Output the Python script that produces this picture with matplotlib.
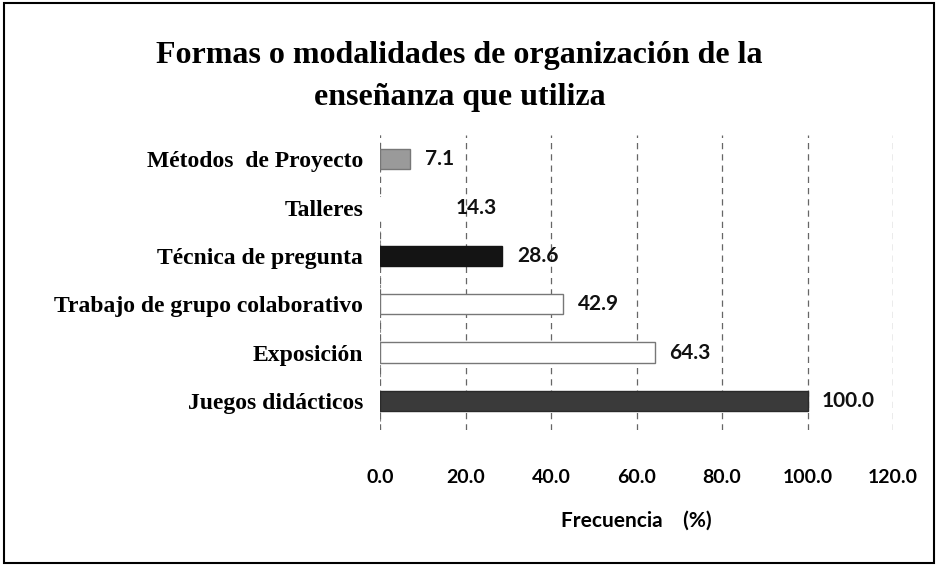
import matplotlib.pyplot as plt
from matplotlib.patches import Rectangle

categorias = ['Juegos didácticos', 'Exposición', 'Trabajo de grupo colaborativo',
              'Técnica de pregunta', 'Talleres', 'Métodos  de Proyecto']
valores = [100.0, 64.3, 42.9, 28.6, 14.3, 7.1]
colores = ['#3a3a3a', '#ffffff', '#ffffff', '#141414', '#ffffff', '#9a9a9a']
bordes = ['#2a2a2a', '#777777', '#777777', '#141414', '#ffffff', '#777777']
ticks = [0, 20, 40, 60, 80, 100, 120]

fig = plt.figure(figsize=(9.38, 5.65), dpi=100)
ax = fig.add_axes([380/938, 1 - 430/565, (893-380)/938, (430-135)/565])

pos = list(range(len(categorias)))
ax.barh(pos, valores, height=0.42, color=colores, edgecolor=bordes, linewidth=1, zorder=3)

# etiquetas de valor
for p, v in zip(pos, valores):
    ax.text(v + 3.4, p, '%.1f' % v, va='center', ha='left', fontsize=15,
            family='Lato', fontweight='bold', color='#111111', zorder=4)

ax.set_xlim(0, 120)
ax.set_ylim(-0.6, 5.5)
ax.set_xticks(ticks)
ax.set_xticklabels(['%.1f' % t for t in ticks], family='Lato', fontweight='bold', fontsize=14)
ax.set_yticks(pos)
ax.set_yticklabels(categorias, family='Liberation Serif', fontweight='bold', fontsize=17)
ax.tick_params(axis='x', length=0, pad=28)
ax.tick_params(axis='y', length=0, pad=12)
ax.xaxis.grid(True, color='#666666', linestyle=(0, (5, 4)), linewidth=0.9, zorder=0)
ax.axvline(0, color='#888888', linestyle=(0, (3, 5)), linewidth=0.8, zorder=1)
for s in ax.spines.values():
    s.set_visible(False)

ax.set_xlabel('Frecuencia    (%)', family='Lato', fontweight='bold', fontsize=15, labelpad=18)

fig.text(0.49, 1 - 56/565, 'Formas o modalidades de organización de la', ha='center', va='center',
         family='Liberation Serif', fontweight='bold', fontsize=23)
fig.text(0.49, 1 - 97/565, 'enseñanza que utiliza', ha='center', va='center',
         family='Liberation Serif', fontweight='bold', fontsize=23)

# marco exterior
fig.patches.append(Rectangle((0.004, 0.004), 0.992, 0.99, transform=fig.transFigure,
                             fill=False, edgecolor='black', linewidth=1.5))

fig.savefig('out.png', dpi=100)
